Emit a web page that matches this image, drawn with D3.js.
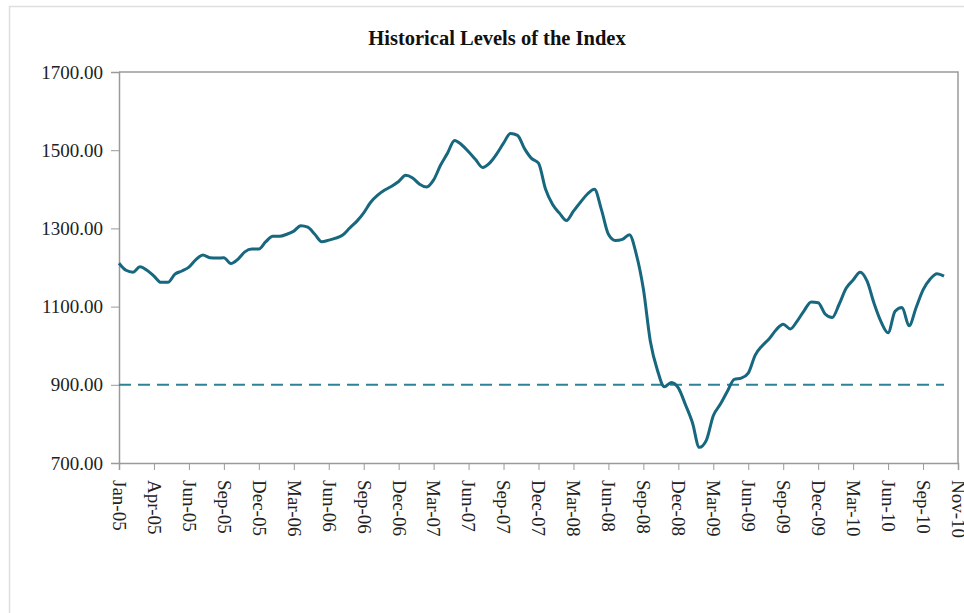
<!DOCTYPE html>
<html>
<head>
<meta charset="utf-8">
<script src="https://cdn.jsdelivr.net/npm/d3@7"></script>
<style>
  html, body { margin: 0; padding: 0; background: #fff; }
  svg { display: block; }
</style>
</head>
<body>
<svg id="chart" width="964" height="613"></svg>
<script>
// ---- Data ----
const title = "Historical Levels of the Index";
const tickLabels = ["Jan-05","Apr-05","Jun-05","Sep-05","Dec-05","Mar-06","Jun-06","Sep-06","Dec-06",
  "Mar-07","Jun-07","Sep-07","Dec-07","Mar-08","Jun-08","Sep-08","Dec-08","Mar-09","Jun-09",
  "Sep-09","Dec-09","Mar-10","Jun-10","Sep-10","Nov-10"];
const stepsPerLabel = 5;
const yTicks = [700, 900, 1100, 1300, 1500, 1700];
const thresholdLevel = 900;
const indexLevels = [
  1211,1193,1188,1202,1193,1178,1162,1162,1183,1191,
  1201,1220,1232,1225,1224,1225,1210,1221,1240,1247,
  1247,1266,1280,1280,1285,1293,1307,1303,1285,1266,
  1270,1275,1283,1301,1318,1340,1367,1385,1398,1408,
  1420,1436,1429,1413,1406,1424,1462,1493,1525,1514,
  1496,1476,1456,1467,1490,1518,1543,1538,1504,1479,
  1467,1401,1362,1339,1320,1344,1367,1388,1400,1348,
  1285,1269,1272,1284,1233,1145,1011,938,895,906,
  892,850,804,740,758,821,850,883,914,917,
  930,976,1000,1018,1041,1055,1043,1063,1090,1112,
  1110,1081,1072,1106,1147,1168,1188,1165,1108,1061,
  1033,1088,1098,1051,1097,1143,1170,1184,1178
];

// ---- Layout ----
const svg = d3.select("#chart");
const plot = { left: 119, right: 958, top: 72, bottom: 463 };
const lineColor = "#17677f";
const dashColor = "#2e8298";
const axisColor = "#9a9a9a";
const font = "'Liberation Serif', 'Times New Roman', serif";

// outer frame
svg.append("rect")
  .attr("x", 9.5).attr("y", 6.5)
  .attr("width", 1000).attr("height", 700)
  .attr("fill", "none").attr("stroke", "#dedede").attr("stroke-width", 1.5);

const x = d3.scaleLinear()
  .domain([0, (tickLabels.length - 1) * stepsPerLabel])
  .range([plot.left, plot.right]);
const y = d3.scaleLinear().domain([700, 1700]).range([plot.bottom, plot.top]);

// title
svg.append("text")
  .attr("x", 497).attr("y", 45)
  .attr("text-anchor", "middle")
  .style("font-family", font).style("font-weight", "bold").style("font-size", "20.5px")
  .attr("fill", "#111")
  .text(title);

// plot border (top & right)
svg.append("path")
  .attr("d", `M${plot.left},${plot.top}H${plot.right}V${plot.bottom}`)
  .attr("fill", "none").attr("stroke", axisColor).attr("stroke-width", 1.5);

// y axis
const yAxis = svg.append("g")
  .attr("transform", `translate(${plot.left},0)`)
  .call(d3.axisLeft(y).tickValues(yTicks).tickFormat(d3.format(".2f")).tickSize(8).tickPadding(8));
yAxis.selectAll("text")
  .style("font-family", font).style("font-size", "19px").attr("fill", "#222");

// x axis
const xAxis = svg.append("g")
  .attr("transform", `translate(0,${plot.bottom})`)
  .call(d3.axisBottom(x)
    .tickValues(tickLabels.map((_, i) => i * stepsPerLabel))
    .tickFormat((d, i) => tickLabels[i])
    .tickSize(7).tickPadding(0));
xAxis.selectAll("text")
  .style("font-family", font).style("font-size", "19px").attr("fill", "#222")
  .attr("text-anchor", "start")
  .attr("dy", "0.35em")
  .attr("transform", "translate(0,17) rotate(90)")
  .attr("x", 0).attr("y", 0);

[yAxis, xAxis].forEach(g => {
  g.select(".domain").attr("stroke", axisColor).attr("stroke-width", 1.5);
  g.selectAll(".tick line").attr("stroke", axisColor).attr("stroke-width", 1);
});

// threshold dashed line
svg.append("line")
  .attr("x1", x(0)).attr("x2", x(indexLevels.length - 1))
  .attr("y1", y(thresholdLevel)).attr("y2", y(thresholdLevel))
  .attr("stroke", dashColor).attr("stroke-width", 2)
  .attr("stroke-dasharray", "12,7");

// index line
const line = d3.line()
  .x((d, i) => x(i))
  .y(d => y(d))
  .curve(d3.curveMonotoneX);
svg.append("path")
  .datum(indexLevels)
  .attr("d", line)
  .attr("fill", "none")
  .attr("stroke", lineColor)
  .attr("stroke-width", 3)
  .attr("stroke-linejoin", "round");
</script>
</body>
</html>
